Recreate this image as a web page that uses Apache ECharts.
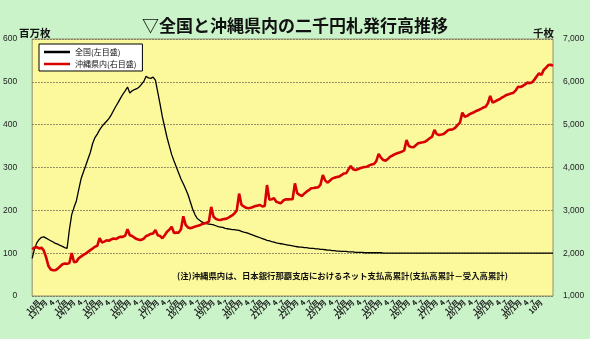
<!DOCTYPE html>
<html>
<head>
<meta charset="utf-8">
<script src="https://cdn.jsdelivr.net/npm/echarts@6/dist/echarts.min.js"></script>
<style>
  html, body { margin: 0; padding: 0; background: #cbf3c9; }
  #chart { width: 590px; height: 339px; }
</style>
</head>
<body>
<div id="chart"></div>
<script>
// Monthly series, H12/7 (Jul 2000) through H31/3 (Mar 2019); one row per calendar year.
const nationwide = [ // 全国, 百万枚 (left axis)
  88, 110, 124, 132, 137, 138,
  135, 132, 129, 126, 123, 121, 118, 116, 113, 111, 155, 190,
  207, 222, 248, 273, 289, 304, 320, 335, 356, 370, 378, 388,
  396, 402, 408, 414, 423, 433, 443, 452, 462, 471, 479, 488,
  474, 479, 482, 484, 488, 494, 501, 513, 509, 508, 511, 504,
  476, 448, 418, 394, 370, 350, 330, 315, 301, 287, 273, 262,
  250, 237, 220, 203, 190, 181, 177, 173, 170, 169, 168, 167,
  166, 164, 162, 161, 160, 158, 157, 156, 155, 155, 154, 153,
  151, 149, 148, 146, 144, 142, 140, 138, 136, 134, 132, 130,
  129, 127, 126, 124, 123, 122, 121, 120, 119, 118, 117, 116,
  115, 114, 114, 113, 113, 112, 111, 111, 110, 110, 109, 109,
  108, 107, 107, 106, 106, 105, 105, 104, 104, 104, 103, 103,
  103, 102, 102, 102, 102, 101, 101, 101, 101, 101, 101, 101,
  101, 100, 100, 100, 100, 100, 100, 100, 100, 100, 100, 100,
  100, 100, 100, 100, 100, 100, 100, 100, 100, 100, 100, 100,
  100, 100, 100, 100, 100, 100, 100, 100, 100, 100, 100, 100,
  100, 100, 100, 100, 100, 100, 100, 100, 100, 100, 100, 100,
  100, 100, 100, 100, 100, 100, 100, 100, 100, 100, 100, 100,
  100, 100, 100, 100, 100, 100, 100, 100, 100, 100, 100, 100,
  100, 100, 100
];

const okinawa = [ // 沖縄県内, 千枚 (right axis)
  2090, 2130, 2140, 2110, 2130, 2060,
  1900, 1700, 1620, 1600, 1600, 1640, 1690, 1740, 1760, 1750, 1770, 2000,
  1790, 1800, 1880, 1920, 1960, 1990, 2030, 2070, 2110, 2150, 2170, 2350,
  2250, 2270, 2300, 2290, 2320, 2345, 2330, 2360, 2385, 2380, 2410, 2560,
  2420, 2400, 2360, 2330, 2310, 2310, 2340, 2400, 2420, 2450, 2460, 2540,
  2420, 2400, 2350, 2420, 2500, 2550, 2615, 2470, 2480, 2480, 2560, 2860,
  2660, 2600, 2580, 2600, 2620, 2635, 2650, 2680, 2695, 2710, 2735, 3080,
  2850, 2800, 2780, 2775, 2790, 2800, 2815, 2850, 2880, 2930, 3000, 3390,
  3130, 3090, 3060, 3050, 3060, 3080, 3100, 3110, 3125, 3090, 3100, 3590,
  3250, 3260, 3280, 3200, 3180, 3165, 3230, 3258, 3255, 3258, 3260, 3630,
  3400, 3360, 3335, 3390, 3436, 3470, 3514, 3520, 3530, 3537, 3600, 3825,
  3700, 3646, 3690, 3740, 3760, 3780, 3786, 3820, 3860, 3864, 3950, 4035,
  3960, 3942, 3960, 3981, 4000, 4010, 4019, 4050, 4070, 4082, 4150, 4316,
  4230, 4176, 4160, 4200, 4253, 4280, 4310, 4332, 4350, 4370, 4400, 4643,
  4503, 4480, 4472, 4520, 4566, 4580, 4590, 4603, 4640, 4682, 4720, 4876,
  4780, 4759, 4770, 4782, 4830, 4876, 4885, 4892, 4930, 4993, 5050, 5280,
  5187, 5200, 5240, 5266, 5290, 5320, 5343, 5370, 5400, 5420, 5500, 5670,
  5514, 5540, 5570, 5593, 5630, 5660, 5693, 5710, 5730, 5747, 5800, 5887,
  5880, 5904, 5940, 5981, 5970, 5990, 6050, 6130, 6200, 6160, 6280, 6330,
  6390, 6400, 6370
];

// Heisei years covered and the first / last month
const heiseiYears = [12, 13, 14, 15, 16, 17, 18, 19, 20, 21, 22, 23, 24, 25, 26, 27, 28, 29, 30, 31];
const firstMonth = 7;
const lastMonth = 3;

// Category labels: every month gets a name, only every third is shown
const months = [];
heiseiYears.forEach((y, yi) => {
  const m0 = yi === 0 ? firstMonth : 1;
  const m1 = yi === heiseiYears.length - 1 ? lastMonth : 12;
  for (let m = m0; m <= m1; m++) {
    if (yi === 0 && m === firstMonth) months.push('H' + y + '/' + m + '月');
    else if (m === 1) months.push(y + '/1月');
    else if (m === 10) months.push('10月');
    else months.push(String(m));
  }
});

const seriesNames = ['全国(左目盛)', '沖縄県内(右目盛)'];
const titleText = '▽全国と沖縄県内の二千円札発行高推移';
const noteText = '(注)沖縄県内は、日本銀行那覇支店におけるネット支払高累計(支払高累計－受入高累計)';

const jp = '"Noto Sans CJK JP", sans-serif';
const num = '"Liberation Sans", Arial, sans-serif';

const chart = echarts.init(document.getElementById('chart'));
chart.setOption({
  backgroundColor: '#cbf3c9',
  animation: false,
  title: {
    text: titleText,
    left: 'center',
    top: 12,
    textStyle: { fontFamily: jp, fontSize: 17, fontWeight: 'bold', color: '#111' }
  },
  legend: {
    orient: 'vertical',
    left: 39,
    top: 44,
    padding: [4, 6, 3, 5],
    itemGap: 4,
    itemWidth: 26,
    itemHeight: 2.5,
    icon: 'rect',
    backgroundColor: '#ffffff',
    borderColor: '#000',
    borderWidth: 1,
    borderRadius: 0,
    textStyle: { fontFamily: jp, fontSize: 8, color: '#111' },
    data: seriesNames
  },
  grid: {
    left: 31, right: 37, top: 39, bottom: 43,
    show: true,
    backgroundColor: '#fcf99c',
    borderColor: '#8f8f70',
    borderWidth: 1
  },
  xAxis: {
    type: 'category',
    data: months,
    boundaryGap: false,
    axisLine: { show: false },
    axisTick: { show: false },
    axisLabel: {
      interval: 2,
      rotate: 45,
      fontSize: 7.5,
      fontWeight: 'bold',
      fontFamily: jp,
      color: '#1a1a1a',
      margin: 5
    }
  },
  yAxis: [
    {
      type: 'value', min: 0, max: 600, interval: 100,
      axisLine: { show: false }, axisTick: { show: false },
      axisLabel: { fontSize: 8.5, fontFamily: num, color: '#222', margin: 15 },
      splitLine: { lineStyle: { color: '#6e6e55', type: [1.5, 1.5], width: 1 } }
    },
    {
      type: 'value', min: 1000, max: 7000, interval: 1000,
      axisLine: { show: false }, axisTick: { show: false },
      axisLabel: {
        fontSize: 8.5, fontFamily: num, color: '#222', margin: 10,
        formatter: v => v.toLocaleString('en-US')
      },
      splitLine: { show: false }
    }
  ],
  graphic: [
    { type: 'text', left: 19, top: 28, style: { text: '百万枚', fontFamily: jp, fontSize: 10.5, fontWeight: 'bold', fill: '#111' } },
    { type: 'text', left: 533, top: 28, style: { text: '千枚', fontFamily: jp, fontSize: 10.5, fontWeight: 'bold', fill: '#111' } },
    { type: 'text', left: 177, top: 272, style: { text: noteText, fontFamily: jp, fontSize: 8.4, fontWeight: 'bold', fill: '#111' } }
  ],
  series: [
    {
      name: seriesNames[0], type: 'line', yAxisIndex: 0, data: nationwide,
      symbol: 'none', lineStyle: { color: '#000', width: 1.3 }, itemStyle: { color: '#000' }, z: 3
    },
    {
      name: seriesNames[1], type: 'line', yAxisIndex: 1, data: okinawa,
      symbol: 'none', lineStyle: { color: '#d80000', width: 2.6 }, itemStyle: { color: '#d80000' }, z: 4
    }
  ]
});
</script>
</body>
</html>
